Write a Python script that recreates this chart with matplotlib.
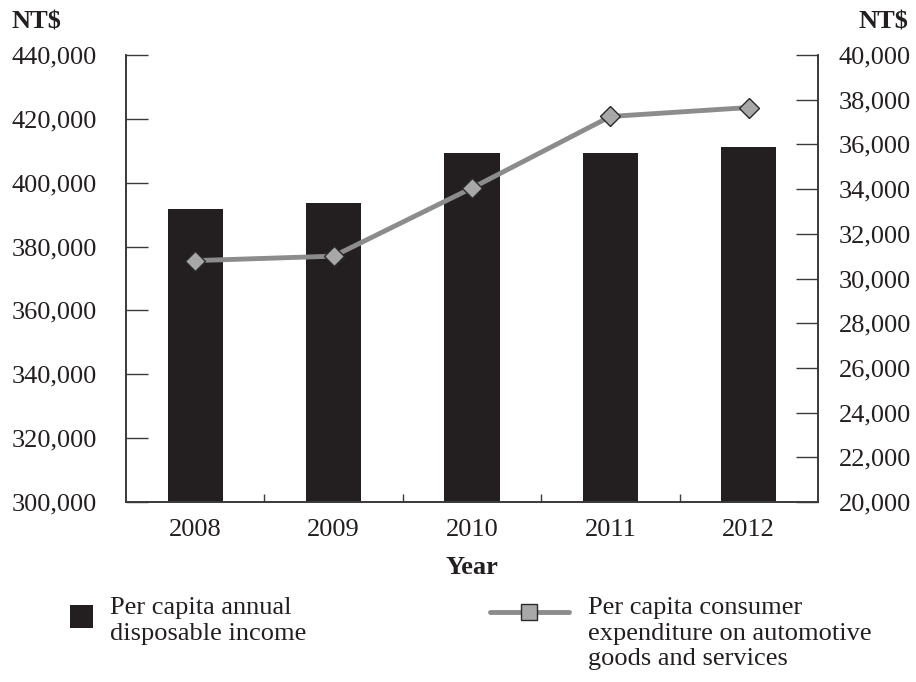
import matplotlib
matplotlib.use("Agg")
import matplotlib.pyplot as plt
from matplotlib.lines import Line2D
from matplotlib.patches import Rectangle
from matplotlib.ticker import FuncFormatter, MultipleLocator, FixedLocator

plt.rcParams['font.family'] = ['Liberation Serif', 'DejaVu Serif']

years = ['2008', '2009', '2010', '2011', '2012']
income = [391700, 393500, 409200, 409400, 411200]
auto_exp = [30800, 31000, 34050, 37250, 37650]

label_income = 'Per capita annual\ndisposable income'
label_auto = 'Per capita consumer\nexpenditure on automotive\ngoods and services'

bar_color = '#231f20'
line_color = '#8c8c8c'
marker_face = '#a8a8a8'
marker_edge = '#2a2a2a'
spine_color = '#3a3a3a'
text_color = '#231f20'
fs = 19

fig = plt.figure(figsize=(9.16, 6.82), dpi=100)
ax = fig.add_axes([126/916, 1 - 502/682, (818-126)/916, (502-55)/682])
x = list(range(len(years)))

ax.bar(x, income, width=0.4, color=bar_color, zorder=2)
ax.set_ylim(300000, 440000)
ax.set_xlim(-0.5, 4.5)
ax.yaxis.set_major_locator(MultipleLocator(20000))
ax.yaxis.set_major_formatter(FuncFormatter(lambda v, p: f'{int(v):,}'))
ax.set_xticks(x)
ax.set_xticklabels(years)
ax.xaxis.set_minor_locator(FixedLocator([0.5, 1.5, 2.5, 3.5]))
ax.tick_params(axis='x', which='major', length=0, pad=12, labelsize=fs, colors=text_color)
ax.tick_params(axis='x', which='minor', direction='in', length=6, width=1, color=spine_color)
ax.tick_params(axis='y', direction='in', length=16, width=1, pad=21, labelsize=fs, color=spine_color, labelcolor=text_color)
ax.set_xlabel('Year', fontsize=fs, fontweight='bold', labelpad=11, color=text_color)

ax2 = ax.twinx()
ax2.plot(x, auto_exp, color=line_color, lw=3.5, marker='D', ms=10,
         mfc=marker_face, mec=marker_edge, mew=1, zorder=3)
ax2.set_ylim(20000, 40000)
ax2.yaxis.set_major_locator(MultipleLocator(2000))
ax2.yaxis.set_major_formatter(FuncFormatter(lambda v, p: f'{int(v):,}'))
ax2.tick_params(axis='y', direction='in', length=16, width=1, pad=15, labelsize=fs, color=spine_color, labelcolor=text_color)

for a in (ax, ax2):
    a.spines['top'].set_visible(False)
    for s in ('left', 'right', 'bottom'):
        a.spines[s].set_color(spine_color)
        a.spines[s].set_linewidth(1.2)

fig.text(12/916, 1 - 22/682, 'NT$', fontsize=fs, fontweight='bold', va='center', ha='left', color=text_color)
fig.text(908/916, 1 - 22/682, 'NT$', fontsize=fs, fontweight='bold', va='center', ha='right', color=text_color)

# legend keys
fig.add_artist(Rectangle((70/916, 1 - 628/682), 23/916, 23/682, transform=fig.transFigure,
                         facecolor=bar_color, edgecolor='none'))
fig.text(110/916, 1 - 597/682, label_income, fontsize=fs, ha='left', va='top',
         linespacing=1.22, color=text_color)
fig.add_artist(Line2D([490/916, 569/916], [1 - 612/682, 1 - 612/682], transform=fig.transFigure,
                      color=line_color, lw=3.5, solid_capstyle='round'))
fig.add_artist(Line2D([528.5/916], [1 - 612/682], transform=fig.transFigure, marker='s', ms=12,
                      mfc=marker_face, mec=marker_edge, mew=1, lw=0))
fig.text(588/916, 1 - 597/682, label_auto, fontsize=fs, ha='left', va='top',
         linespacing=1.22, color=text_color)

fig.savefig('out.png', dpi=100)
